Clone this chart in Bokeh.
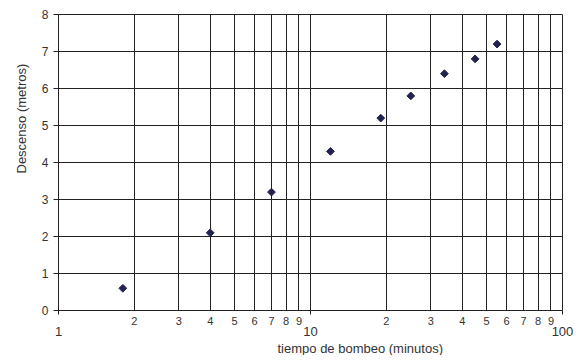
from bokeh.plotting import figure
from bokeh.models import LogAxis, FixedTicker, Range1d, Title
from bokeh.embed import file_html
from bokeh.resources import INLINE
import math

# data
tiempo = [1.8, 4, 7, 12, 19, 25, 34, 45, 55]          # minutos
descenso = [0.6, 2.1, 3.2, 4.3, 5.2, 5.8, 6.4, 6.8, 7.2]  # metros

minor_ticks = [2, 3, 4, 5, 6, 7, 8, 9, 20, 30, 40, 50, 60, 70, 80, 90]
minor_labels = ["2", "3", "4", "5", "6", "7", "8", "9", "2", "3", "4", "5", "6", "7", "8", "9"]
decade_ticks = [1, 10, 100]
decade_labels = ["1", "10", "100"]
y_ticks = [0, 1, 2, 3, 4, 5, 6, 7, 8]

FONT = "Liberation Sans"
TXT = "#333333"
LINE = "#222222"

p = figure(x_axis_type="log", x_range=Range1d(1, 100), y_range=Range1d(0, 8),
           frame_width=504, frame_height=296,
           min_border_left=58, min_border_right=14, min_border_top=14, min_border_bottom=4,
           output_backend="svg", toolbar_location=None)
p.background_fill_color = "white"
p.border_fill_color = "white"
p.outline_line_color = LINE
p.outline_line_width = 1

# first x axis: minor labels
ax = p.xaxis[0]
ax.ticker = FixedTicker(ticks=minor_ticks, minor_ticks=decade_ticks)
ax.major_label_overrides = dict(zip(minor_ticks, minor_labels))
ax.major_tick_out = 0
ax.major_tick_in = 0
ax.minor_tick_out = 4
ax.minor_tick_in = 0
ax.minor_tick_line_color = LINE
ax.axis_line_color = LINE
ax.major_label_standoff = 2
ax.major_label_text_font = FONT
ax.major_label_text_font_size = "11px"
ax.major_label_text_color = TXT

# second x axis: decade labels
ax2 = LogAxis(ticker=FixedTicker(ticks=decade_ticks, minor_ticks=[]),
              major_label_overrides=dict(zip(decade_ticks, decade_labels)),
              major_tick_out=0, major_tick_in=0, minor_tick_out=0, minor_tick_in=0,
              axis_line_color=None, major_tick_line_color=None, minor_tick_line_color=None,
              major_label_standoff=-1,
              major_label_text_font=FONT, major_label_text_font_size="13px",
              major_label_text_color=TXT)
p.add_layout(ax2, "below")

# y axis
ay = p.yaxis[0]
ay.ticker = FixedTicker(ticks=y_ticks, minor_ticks=[])
ay.major_tick_out = 5
ay.major_tick_in = 0
ay.major_tick_line_color = LINE
ay.axis_line_color = LINE
ay.major_label_standoff = 5
ay.major_label_text_font = FONT
ay.major_label_text_font_size = "12px"
ay.major_label_text_color = TXT

# grids
p.xgrid.ticker = FixedTicker(ticks=minor_ticks + decade_ticks, minor_ticks=[])
p.xgrid.grid_line_color = LINE
p.xgrid.grid_line_width = 1
p.ygrid.ticker = FixedTicker(ticks=y_ticks, minor_ticks=[])
p.ygrid.grid_line_color = LINE
p.ygrid.grid_line_width = 1

# axis titles
p.add_layout(Title(text="tiempo de bombeo (minutos)", align="left", offset=219,
                   text_font=FONT, text_font_size="13px", text_font_style="normal",
                   text_color=TXT, standoff=0), "below")
p.add_layout(Title(text="Descenso (metros)", align="left", offset=137,
                   text_font=FONT, text_font_size="13px", text_font_style="normal",
                   text_color=TXT, standoff=20), "left")

p.scatter(tiempo, descenso, marker="square", angle=math.pi / 4, size=5.5,
          fill_color="#23234f", line_color="#23234f")

open("out.html", "w").write(file_html(p, INLINE))
